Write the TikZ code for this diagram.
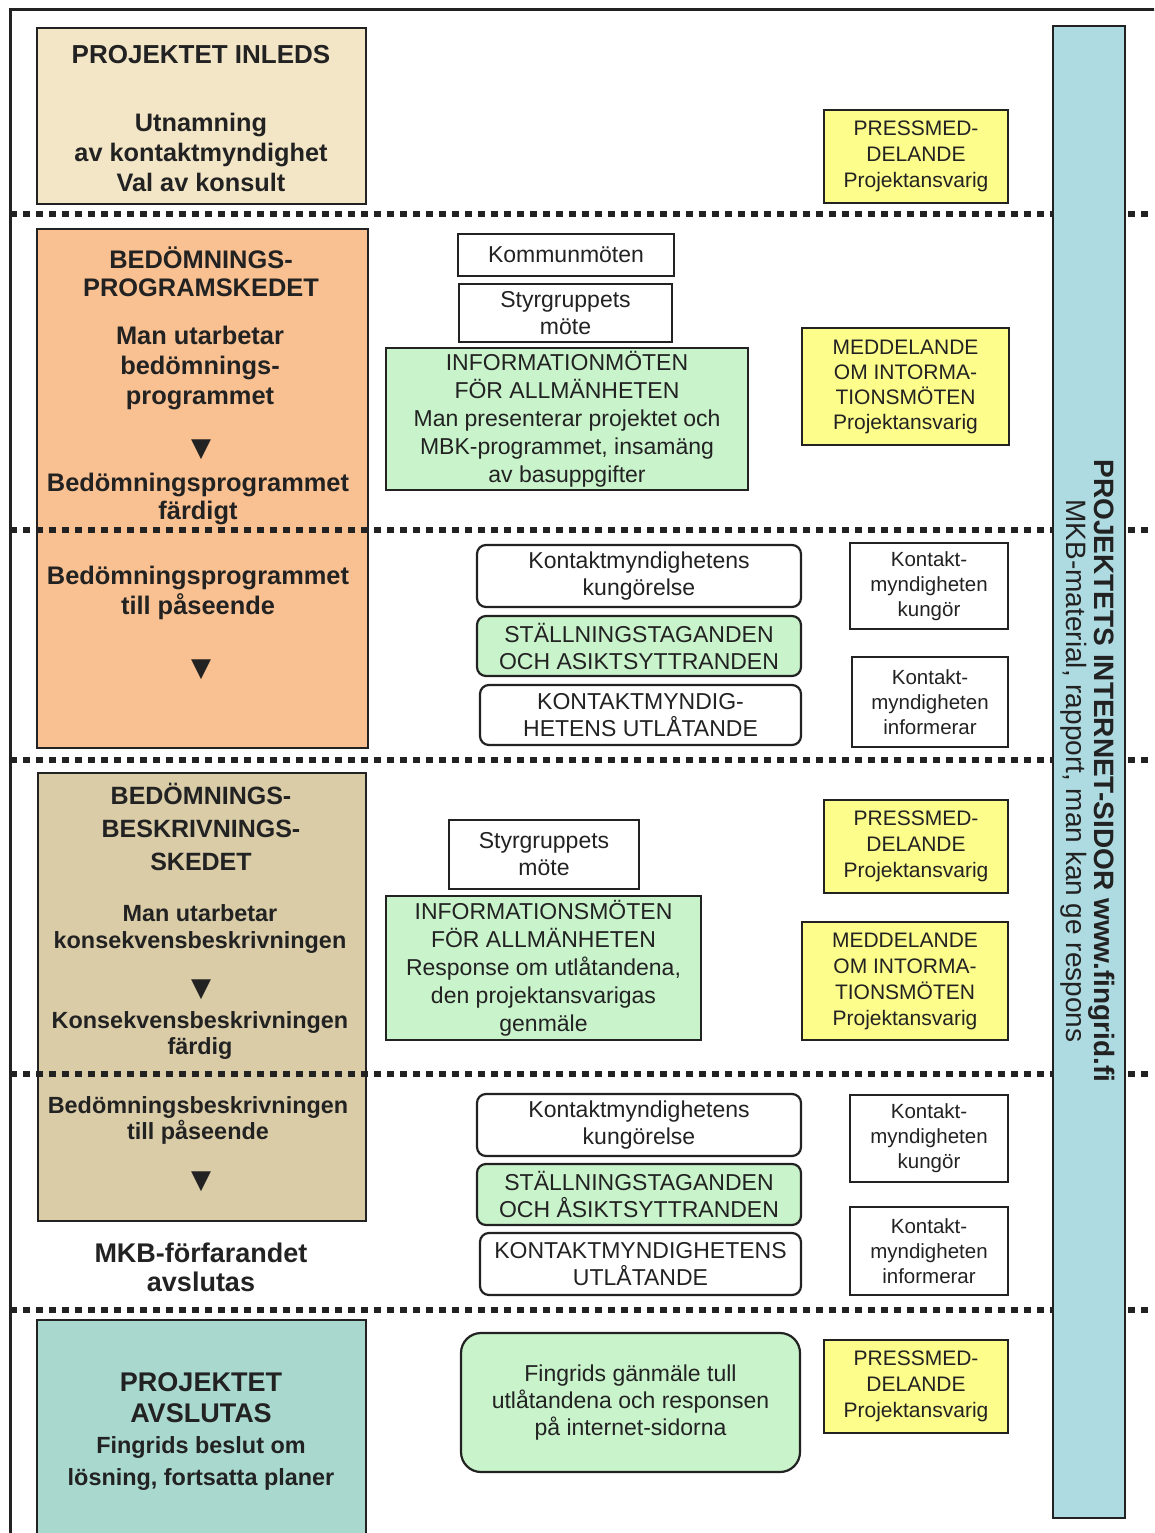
\documentclass[tikz,border=0pt]{standalone}
\usepackage{fontspec}
\setmainfont{Liberation Sans}
\newfontfamily\symfont{DejaVu Sans}
\newcommand\fsz[2]{\fontsize{#1}{#2}\selectfont}
\definecolor{beige}{HTML}{F3E6C6}
\definecolor{orng}{HTML}{F9C191}
\definecolor{tanc}{HTML}{D9CCA7}
\definecolor{tealc}{HTML}{A8D8CE}
\definecolor{mint}{HTML}{C9F3CB}
\definecolor{yel}{HTML}{FDFD8C}
\definecolor{barc}{HTML}{AEDAE1}
\definecolor{ink}{HTML}{222222}
\tikzset{
  leftbox/.style={draw=ink, line width=2.6pt, inner sep=0pt},
  ltxt/.style={align=center, inner sep=0pt, text=ink},
  arr/.style={inner sep=0pt, text=ink, font=\symfont\fsz{26}{26}},
  mbox/.style={draw=ink, line width=2.2pt, inner sep=0pt, align=center, fill=white, text=ink, font=\fsz{23}{27}},
  rbox/.style={mbox, rounded corners=9pt},
  gbox/.style={mbox, fill=mint, font=\fsz{23}{28}},
  ybox/.style={draw=ink, line width=2.6pt, fill=yel, inner sep=0pt, align=center, text=ink, font=\fsz{21}{26}},
  sbox/.style={mbox, font=\fsz{20.5}{25}},
  divider/.style={line width=6.5pt, dash pattern=on 7pt off 6pt, ink}
}
\begin{document}
\begin{tikzpicture}[x=1pt,y=-1pt]
\useasboundingbox (0,0) rectangle (1154,1533);
\clip (0,0) rectangle (1154,1533);
\fill[white] (0,0) rectangle (1154,1533);
% outer frame
\draw[line width=3pt, ink] (10,1560) -- (10,10) -- (1170,10);

% ---------- left column ----------
\node[leftbox, fill=beige, minimum width=329pt, minimum height=176pt] (inleds) at (201.5,116) {};
\node[ltxt, font=\bfseries\fsz{26}{30}] (inledsT) at (201,55) {PROJEKTET INLEDS};
\node[ltxt, font=\bfseries\fsz{25.3}{30}] (inledsB) at (201,152) {Utnamning\\av kontaktmyndighet\\Val av konsult};

\node[leftbox, fill=orng, minimum width=331pt, minimum height=519pt] (prog) at (202.5,488.5) {};
\node[ltxt, font=\bfseries\fsz{25.4}{28}] (progT) at (201,271.5) {BEDÖMNINGS-\\PROGRAMSKEDET};
\node[ltxt, font=\bfseries\fsz{25.4}{30}] (progM) at (200,368) {Man utarbetar\\bedömnings-\\programmet};
\node[arr] (progA1) at (201,450) {▼};
\node[ltxt, font=\bfseries\fsz{25.4}{28}] (progF) at (198,499) {Bedömningsprogrammet\\färdigt};
\node[ltxt, font=\bfseries\fsz{25.4}{30}] (progP) at (198,593) {Bedömningsprogrammet\\till påseende};
\node[arr] (progA2) at (201,670) {▼};

\node[leftbox, fill=tanc, minimum width=328pt, minimum height=448pt] (beskr) at (202,997) {};
\node[ltxt, font=\bfseries\fsz{25}{33}] (beskrT) at (201,827) {BEDÖMNINGS-\\BESKRIVNINGS-\\SKEDET};
\node[ltxt, font=\bfseries\fsz{23.4}{27}] (beskrM) at (200,928.5) {Man utarbetar\\konsekvensbeskrivningen};
\node[arr] (beskrA1) at (201,990) {▼};
\node[ltxt, font=\bfseries\fsz{23.4}{26}] (beskrF) at (200,1035) {Konsekvensbeskrivningen\\färdig};
\node[ltxt, font=\bfseries\fsz{23.4}{26}] (beskrP) at (198,1120) {Bedömningsbeskrivningen\\till påseende};
\node[arr] (beskrA2) at (201,1182) {▼};
\node[ltxt, font=\bfseries\fsz{27}{29}] (mkb) at (201,1267.5) {MKB-förfarandet\\avslutas};

\node[leftbox, fill=tealc, minimum width=329pt, minimum height=225pt] (slut) at (201.5,1432.5) {};
\node[ltxt, font=\bfseries\fsz{27}{31}] (slutT) at (201,1397.5) {PROJEKTET\\AVSLUTAS};
\node[ltxt, font=\bfseries\fsz{23.4}{32}] (slutB) at (201,1463) {Fingrids beslut om\\lösning, fortsatta planer};

% ---------- dividers ----------
\coordinate (d1a) at (10,214);  \coordinate (d1b) at (1154,214);
\coordinate (d2a) at (10,530);  \coordinate (d2b) at (1154,530);
\coordinate (d3a) at (10,760);  \coordinate (d3b) at (1154,760);
\coordinate (d4a) at (10,1074); \coordinate (d4b) at (1154,1074);
\coordinate (d5a) at (10,1310); \coordinate (d5b) at (1154,1310);
\draw[divider] (d1a) -- (d1b);
\draw[divider] (d2a) -- (d2b);
\draw[divider] (d3a) -- (d3b);
\draw[divider] (d4a) -- (d4b);
\draw[divider] (d5a) -- (d5b);

% ---------- middle column ----------
\node[mbox, minimum width=216pt, minimum height=42pt] (kommun) at (566,255) {Kommunmöten};
\node[mbox, minimum width=213pt, minimum height=58pt] (styr1) at (565.5,313) {Styrgruppets\\möte};
\node[gbox, minimum width=362pt, minimum height=142pt] (info1) at (567,419) {INFORMATIONMÖTEN\\FÖR ALLMÄNHETEN\\Man presenterar projektet och\\MBK-programmet, insamäng\\av basuppgifter};

\node[rbox, minimum width=324pt, minimum height=62pt] (kung1) at (639,576) {Kontaktmyndighetens\\kungörelse};
\node[rbox, fill=mint, minimum width=324pt, minimum height=60pt] (stall1) at (639,646) {STÄLLNINGSTAGANDEN\\OCH ASIKTSYTTRANDEN};
\node[rbox, minimum width=321pt, minimum height=60pt] (utl1) at (640.5,715) {KONTAKTMYNDIG-\\HETENS UTLÅTANDE};

\node[mbox, minimum width=190pt, minimum height=69pt] (styr2) at (544,854.5) {Styrgruppets\\möte};
\node[gbox, minimum width=315pt, minimum height=144pt] (info2) at (543.5,968) {INFORMATIONSMÖTEN\\FÖR ALLMÄNHETEN\\Response om utlåtandena,\\den projektansvarigas\\genmäle};

\node[rbox, minimum width=324pt, minimum height=62pt] (kung2) at (639,1125) {Kontaktmyndighetens\\kungörelse};
\node[rbox, fill=mint, minimum width=324pt, minimum height=61pt] (stall2) at (639,1194.5) {STÄLLNINGSTAGANDEN\\OCH ÅSIKTSYTTRANDEN};
\node[rbox, minimum width=321pt, minimum height=62pt] (utl2) at (640.5,1264) {KONTAKTMYNDIGHETENS\\UTLÅTANDE};

\node[gbox, rounded corners=20pt, font=\fsz{23}{27}, minimum width=339pt, minimum height=139pt] (fg) at (630.5,1402.5) {Fingrids gänmäle tull\\utlåtandena och responsen\\på internet-sidorna};

% ---------- right column ----------
\node[ybox, minimum width=184pt, minimum height=93pt] (y1) at (916,156.5) {PRESSMED-\\DELANDE\\Projektansvarig};
\node[ybox, font=\fsz{21}{25}, minimum width=207pt, minimum height=117pt] (y2) at (905.5,386.5) {MEDDELANDE\\OM INTORMA-\\TIONSMÖTEN\\Projektansvarig};
\node[sbox, minimum width=158pt, minimum height=86pt] (rk1) at (929,586) {Kontakt-\\myndigheten\\kungör};
\node[sbox, minimum width=156pt, minimum height=90pt] (ri1) at (930,702) {Kontakt-\\myndigheten\\informerar};
\node[ybox, minimum width=184pt, minimum height=93pt] (y3) at (916,846.5) {PRESSMED-\\DELANDE\\Projektansvarig};
\node[ybox, font=\fsz{21}{26}, minimum width=206pt, minimum height=118pt] (y4) at (905,981) {MEDDELANDE\\OM INTORMA-\\TIONSMÖTEN\\Projektansvarig};
\node[sbox, minimum width=158pt, minimum height=87pt] (rk2) at (929,1138.5) {Kontakt-\\myndigheten\\kungör};
\node[sbox, minimum width=158pt, minimum height=88pt] (ri2) at (929,1251) {Kontakt-\\myndigheten\\informerar};
\node[ybox, minimum width=184pt, minimum height=93pt] (y5) at (916,1386.5) {PRESSMED-\\DELANDE\\Projektansvarig};

% ---------- internet bar ----------
\node[draw=ink, line width=2.4pt, fill=barc, minimum width=72pt, minimum height=1492pt, inner sep=0pt] (bar) at (1089,772) {};
\node[rotate=-90, align=center, inner sep=0pt, text=ink, font=\fsz{28}{28}] (bartxt) at (1088,771) {\bfseries PROJEKTETS INTERNET-SIDOR www.fingrid.fi\\MKB-material, rapport, man kan ge respons};
\end{tikzpicture}
\end{document}
